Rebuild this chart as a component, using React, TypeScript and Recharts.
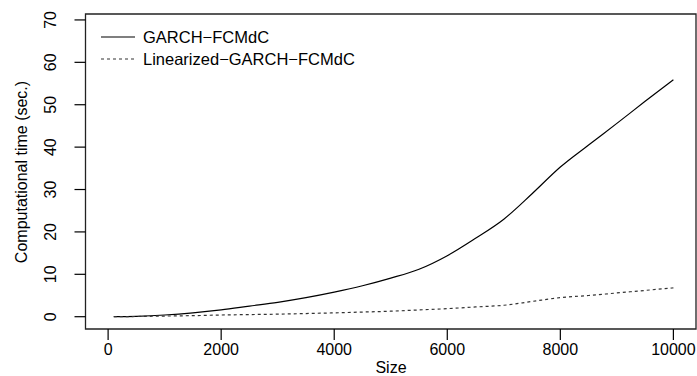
import { LineChart, Line, XAxis, YAxis, ReferenceArea, Label } from 'recharts'

const sizes = [100, 500, 1000, 1500, 2000, 2500, 3000, 3500, 4000, 4500, 5000, 5500, 6000, 6500, 7000, 7500, 8000, 8500, 9000, 9500, 10000]
const garchTime = [0, 0.1, 0.4, 0.9, 1.6, 2.5, 3.4, 4.5, 5.8, 7.3, 9.1, 11.2, 14.4, 18.5, 23.0, 29.0, 35.3, 40.5, 45.6, 50.8, 55.9]
const linearTime = [0, 0.05, 0.15, 0.25, 0.4, 0.5, 0.6, 0.75, 0.9, 1.1, 1.3, 1.6, 1.9, 2.3, 2.7, 3.6, 4.5, 5.0, 5.6, 6.2, 6.8]

const xTicks = [0, 2000, 4000, 6000, 8000, 10000]
const yTicks = [0, 10, 20, 30, 40, 50, 60, 70]

const seriesNames = ['GARCH\u2212FCMdC', 'Linearized\u2212GARCH\u2212FCMdC']

const data = sizes.map((s, i) => ({ size: s, garch: garchTime[i], linear: linearTime[i] }))

const FONT = '"Liberation Sans", Arial, Helvetica, sans-serif'

const YTick = ({ x, y, payload }: any) => (
  <text
    x={x - 16}
    y={y}
    transform={`rotate(-90, ${x - 16}, ${y})`}
    textAnchor='middle'
    fontSize={16}
    fontFamily={FONT}
    fill='#000'
  >
    {payload.value}
  </text>
)

const LegendBox = () => (
  <svg width={300} height={50} style={{ display: 'block' }}>
    <line x1={6} y1={12} x2={40} y2={12} stroke='#000' strokeWidth={1.2} />
    <line x1={6} y1={34} x2={40} y2={34} stroke='#333' strokeWidth={1.2} strokeDasharray='3 3' />
    <text x={48} y={18} fontSize={16.5} fontFamily={FONT} fill='#000'>{seriesNames[0]}</text>
    <text x={48} y={40} fontSize={16.5} fontFamily={FONT} fill='#000'>{seriesNames[1]}</text>
  </svg>
)

export default function App() {
  return (
    <div style={{ position: 'fixed', left: 0, top: 0, width: 697, height: 376, background: '#fff' }}>
      <LineChart width={697} height={376} data={data} margin={{ top: 14, right: 1, bottom: 0, left: 0 }}>
        <XAxis
          dataKey='size'
          type='number'
          domain={[-400, 10400]}
          ticks={xTicks}
          allowDataOverflow
          height={47}
          axisLine={false}
          tickSize={11}
          tickMargin={4}
          tickLine={{ stroke: '#000', strokeWidth: 1.2 }}
          tick={{ fontSize: 16, fontFamily: FONT, fill: '#000' }}
          interval={0}
        >
          <Label
            content={() => (
              <text x={391} y={373} textAnchor='middle' fontSize={16} fontFamily={FONT} fill='#000'>
                Size
              </text>
            )}
          />
        </XAxis>
        <YAxis
          type='number'
          domain={[-2.9, 71.4]}
          ticks={yTicks}
          allowDataOverflow
          width={85.5}
          axisLine={false}
          tickSize={11}
          tickLine={{ stroke: '#000', strokeWidth: 1.2 }}
          tick={<YTick />}
          interval={0}
        >
          <Label
            content={() => (
              <text
                x={27}
                y={172}
                transform='rotate(-90, 27, 172)'
                textAnchor='middle'
                fontSize={16}
                fontFamily={FONT}
                fill='#000'
              >
                Computational time (sec.)
              </text>
            )}
          />
        </YAxis>
        <ReferenceArea
          x1={-400}
          x2={10400}
          y1={-2.9}
          y2={71.4}
          fill='none'
          fillOpacity={0}
          stroke='#222'
          strokeWidth={1.3}
          ifOverflow='visible'
        />
        <Line
          dataKey='garch'
          type='monotone'
          stroke='#000'
          strokeWidth={1.2}
          dot={false}
          isAnimationActive={false}
        />
        <Line
          dataKey='linear'
          type='monotone'
          stroke='#333'
          strokeWidth={1.2}
          strokeDasharray='3 3'
          dot={false}
          isAnimationActive={false}
        />
      </LineChart>
      <div style={{ position: 'absolute', left: 95, top: 25 }}>
        <LegendBox />
      </div>
    </div>
  )
}
